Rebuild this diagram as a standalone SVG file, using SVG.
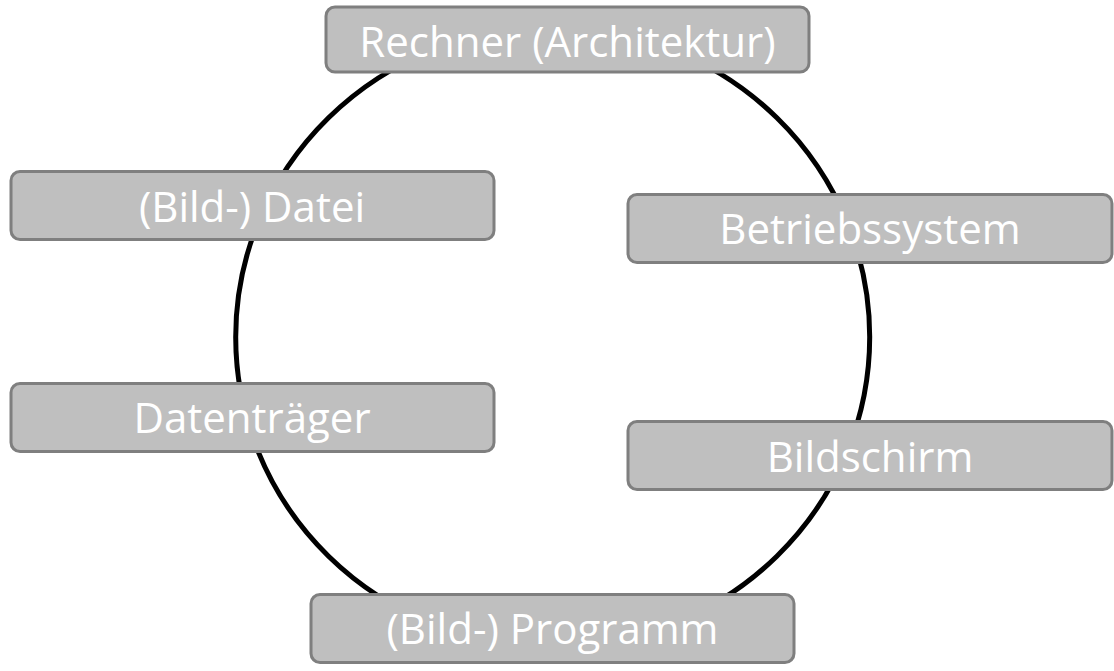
<svg xmlns="http://www.w3.org/2000/svg" width="1114" height="671" viewBox="0 0 1114 671">
<style>
.box{fill:#bfbfbf;stroke:#7f7f7f;stroke-width:3}
.lbl{font-family:"Open Sans",Lato,sans-serif;font-size:42px;fill:#ffffff;text-anchor:middle}
.ring{fill:none;stroke:#000;stroke-width:5}
</style>
<rect width="1114" height="671" fill="#fff"/>
<g id="connectors">
<ellipse class="ring" cx="552.7" cy="337" rx="317" ry="310"/>
</g>
<g id="rechner"><rect class="box" x="326" y="7" width="483" height="65" rx="9"/><text class="lbl" x="567.5" y="57">Rechner (Architektur)</text></g>
<g id="datei"><rect class="box" x="11" y="171.5" width="483" height="68" rx="9"/><text class="lbl" x="252" y="222">(Bild-) Datei</text></g>
<g id="betriebssystem"><rect class="box" x="628" y="194.5" width="484" height="68" rx="9"/><text class="lbl" x="870" y="244">Betriebssystem</text></g>
<g id="datentraeger"><rect class="box" x="11" y="383.5" width="483" height="68" rx="9"/><text class="lbl" x="252" y="433">Datenträger</text></g>
<g id="bildschirm"><rect class="box" x="628" y="421.5" width="484" height="68" rx="9"/><text class="lbl" x="870" y="472">Bildschirm</text></g>
<g id="programm"><rect class="box" x="311" y="594.5" width="483" height="68" rx="9"/><text class="lbl" x="552.5" y="644">(Bild-) Programm</text></g>
</svg>
